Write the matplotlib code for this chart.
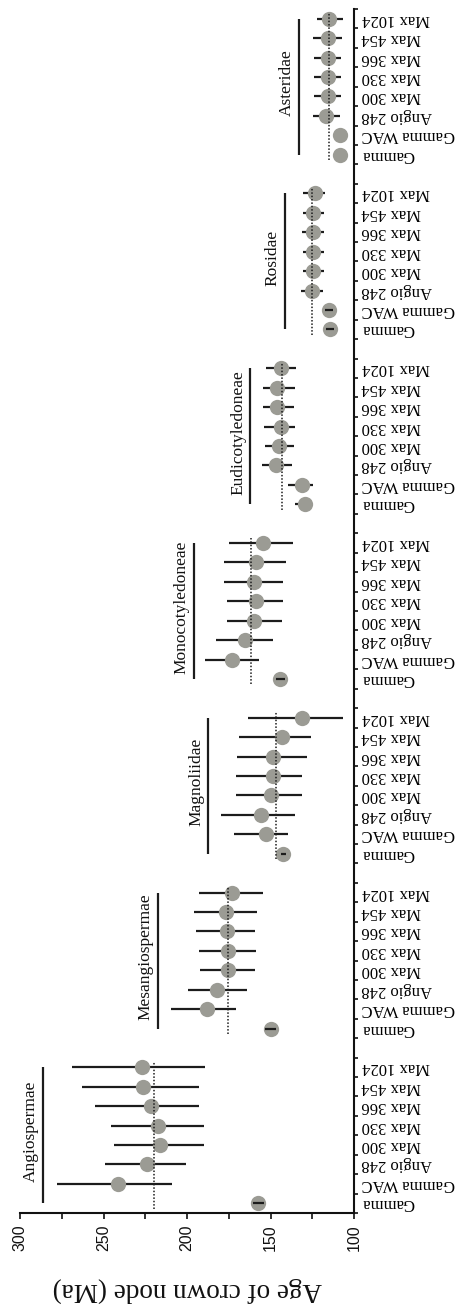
import matplotlib
matplotlib.use("Agg")
import matplotlib.pyplot as plt
import numpy as np

# ---------------- data ----------------
groups = ["Angiospermae", "Mesangiospermae", "Magnoliidae", "Monocotyledoneae",
          "Eudicotyledoneae", "Rosidae", "Asteridae"]
categories = ["Gamma", "Gamma WAC", "Angio 248", "Max 300", "Max 330",
              "Max 366", "Max 454", "Max 1024"]

angio_mean = [157.3, 241.1, 223.8, 216.2, 217.6, 221.6, 226.2, 226.8]
angio_low = [154.0, 208.8, 200.8, 189.8, 189.8, 192.8, 192.8, 189.2]
angio_high = [160.5, 277.6, 248.9, 243.5, 245.5, 255.1, 263.1, 268.7]

mesang_mean = [149.9, 188.2, 181.9, 175.3, 175.3, 175.9, 176.6, 173.2]
mesang_low = [147.0, 170.7, 164.3, 159.3, 158.7, 159.3, 157.9, 154.3]
mesang_high = [153.0, 209.6, 199.6, 192.2, 192.8, 194.6, 195.8, 192.8]

magnol_mean = [142.3, 152.9, 155.5, 149.7, 148.3, 148.3, 143.3, 131.3]
magnol_low = [140.5, 139.4, 135.3, 131.3, 130.9, 128.0, 125.7, 106.4]
magnol_high = [144.0, 171.7, 179.8, 170.7, 170.7, 169.9, 168.9, 163.3]

monocot_mean = [144.3, 172.9, 165.3, 159.7, 158.7, 159.9, 158.7, 154.3]
monocot_low = [141.5, 156.7, 148.3, 143.3, 142.7, 142.7, 140.9, 136.7]
monocot_high = [147.0, 189.4, 182.6, 175.9, 176.2, 177.7, 177.7, 174.6]

eudicot_mean = [129.3, 130.9, 146.7, 144.7, 143.9, 145.9, 146.3, 143.7]
eudicot_low = [126.0, 124.4, 137.3, 135.9, 135.3, 135.9, 135.3, 134.9]
eudicot_high = [135.3, 139.4, 154.9, 153.3, 153.9, 154.3, 154.7, 152.9]

rosid_mean = [114.4, 114.8, 125.3, 124.8, 124.4, 124.4, 124.4, 123.4]
rosid_low = [112.0, 112.3, 118.4, 117.8, 117.8, 117.8, 117.8, 117.4]
rosid_high = [117.0, 117.3, 131.7, 130.7, 130.7, 131.3, 130.7, 130.3]

asterid_mean = [108.4, 108.4, 116.8, 115.8, 115.8, 115.8, 115.8, 114.8]
asterid_low = [106.0, 103.4, 108.4, 108.0, 108.0, 108.0, 107.4, 106.8]
asterid_high = [110.0, 111.0, 124.4, 123.8, 123.8, 123.8, 124.4, 122.3]

# reference age (dotted line) and position of group-name bar
ref_age = [220.0, 175.2, 146.6, 161.5, 143.0, 125.0, 114.8]
label_bar_age = [286.0, 217.6, 187.2, 196.1, 162.1, 141.3, 132.8]

# points whose error bar is drawn above the marker (group index, category index)
bar_on_top = [(0, 0), (1, 0), (2, 0), (3, 0), (5, 0), (5, 1)]

value_ticks = [300, 250, 200, 150, 100]
value_minor = [275, 225, 175, 125]

means = [angio_mean, mesang_mean, magnol_mean, monocot_mean,
         eudicot_mean, rosid_mean, asterid_mean]
lows = [angio_low, mesang_low, magnol_low, monocot_low,
        eudicot_low, rosid_low, asterid_low]
highs = [angio_high, mesang_high, magnol_high, monocot_high,
         eudicot_high, rosid_high, asterid_high]

# ---------------- figure ----------------
W, H = 457, 1305
fig = plt.figure(figsize=(W / 100, H / 100), dpi=100)
ax_left, ax_right, ax_top, ax_bot = 20, 354, 9, 1213
ax = fig.add_axes([ax_left / W, 1 - ax_bot / H, (ax_right - ax_left) / W, (ax_bot - ax_top) / H])

marker_col = "#9b9b94"
dark = "#1c1c1c"
ncat = len(categories)
step = ncat + 1

tick_pos = []
tick_lab = []
for g, name in enumerate(groups):
    y = np.arange(ncat) + g * step
    m = np.array(means[g])
    lo = np.array(lows[g])
    hi = np.array(highs[g])
    for k in range(ncat):
        z = 4 if (g, k) in bar_on_top else 2
        ax.plot([lo[k], hi[k]], [y[k], y[k]], color=dark, lw=1.6,
                solid_capstyle="butt", zorder=z)
    ax.plot(m, y, "o", ms=11, color=marker_col, mec="none", zorder=3)
    # dotted reference
    ax.plot([ref_age[g], ref_age[g]], [y[0] - 0.28, y[-1] + 0.28], color=dark,
            lw=1.1, ls=(0, (1, 1.2)), zorder=5)
    # group bar + name
    ax.plot([label_bar_age[g], label_bar_age[g]], [y[0], y[-1]], color=dark,
            lw=1.6, solid_capstyle="butt", zorder=2)
    ax.annotate(name, xy=(label_bar_age[g], (y[0] + y[-1]) / 2 + 0.2),
                xytext=(-3, 0), textcoords="offset points", rotation=90,
                ha="right", va="center", fontsize=12.5, family="Liberation Serif",
                color="#111111")
    tick_pos.extend(y.tolist())
    tick_lab.extend(categories)

ax.set_xlim(300, 100)
ax.set_ylim(-0.5, len(groups) * step - 1 - 0.5)

for s in ["left", "top"]:
    ax.spines[s].set_visible(False)
for s in ["right", "bottom"]:
    ax.spines[s].set_linewidth(1.5)
    ax.spines[s].set_color("#111111")

# value axis
ax.set_xticks(value_ticks)
ax.set_xticks(value_minor, minor=True)
ax.set_xticklabels([str(v) for v in value_ticks], rotation=90,
                   fontsize=11.5, family="Liberation Sans")
ax.tick_params(axis="x", which="both", direction="out", length=4.5, width=1.2,
               pad=3.5, colors="#111111")

# category axis on the right
ax.yaxis.tick_right()
ax.set_yticks(tick_pos)
ax.set_yticklabels(tick_lab, rotation=180, va="center", ha="left",
                   fontsize=12, family="Liberation Serif")
bounds = np.arange(-0.5, len(groups) * step - 1, 1.0)
ax.set_yticks(bounds, minor=True)
ax.tick_params(axis="y", which="major", length=0, pad=5.5)
ax.tick_params(axis="y", which="minor", direction="out", length=3, width=1.2,
               right=True, left=False, colors="#111111")

fig.text(((ax_left + ax_right) / 2) / W, 1 - 1290 / H, "Age of crown node (Ma)",
         rotation=180, ha="center", va="center", fontsize=19.5,
         family="Liberation Serif", color="#111111")

fig.savefig("out.png", dpi=100)
